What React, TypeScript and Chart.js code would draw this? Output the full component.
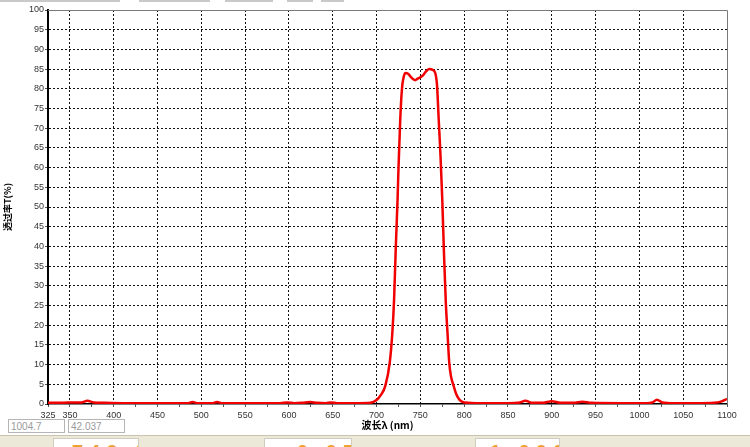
import { useEffect, useRef } from "react";
import { Chart, registerables } from "chart.js";

Chart.register(...registerables);

// Wavelength (nm) samples
const wavelengths = [
  325, 340, 355, 363, 370, 377, 390, 420, 460, 484, 490, 496, 512, 518, 524, 560,
  590, 598, 606, 615, 624, 632, 642, 648, 655, 680, 693, 700, 705, 710, 715, 718,
  720, 722, 724, 725, 727, 729, 731, 733, 736, 740, 744, 747, 750, 753, 756, 760,
  764, 767, 769, 771, 773, 775, 777, 779, 781, 783, 785, 788, 791, 795, 800, 820,
  850, 862, 870, 878, 890, 900, 910, 925, 935, 945, 980, 1008, 1015, 1020, 1026,
  1040, 1070, 1085, 1093, 1100,
];

// Transmittance T (%)
const transmittance = [
  0.3, 0.3, 0.4, 0.4, 0.8, 0.4, 0.3, 0.2, 0.2, 0.2, 0.5, 0.2, 0.2, 0.5, 0.2, 0.2,
  0.2, 0.4, 0.2, 0.3, 0.5, 0.3, 0.2, 0.4, 0.2, 0.2, 0.3, 1.0, 2.3, 4.6, 10.4, 18,
  26.5, 40, 52, 59.5, 72, 80, 83, 84, 83.8, 82.8, 82.2, 82.6, 82.9, 83.4, 84.3, 85,
  84.8, 84, 81, 72, 63, 52, 38, 26, 18, 10.4, 7, 4.6, 2.5, 1.0, 0.4, 0.2,
  0.2, 0.3, 0.8, 0.3, 0.3, 0.7, 0.3, 0.3, 0.6, 0.3, 0.2, 0.2, 0.4, 1.1, 0.4,
  0.2, 0.2, 0.3, 0.6, 1.3,
];

// Axis tick labels
const xLabelValues = [325, 350, 400, 450, 500, 550, 600, 650, 700, 750, 800, 850, 900, 950, 1000, 1050, 1100];
const xMinorStep = 25;
const yTickStep = 5;

const xTitle = "波长λ (nm)";
const yTitle = "透过率T(%)";
const readouts = ["1004.7", "42.037"];
const panelValues = ["746.0", "0.05", "1.000"];

export default function App() {
  const ref = useRef<HTMLCanvasElement>(null);

  useEffect(() => {
    document.body.style.margin = "0";
    const canvas = ref.current;
    if (!canvas) return;

    const frame = {
      id: "frame",
      beforeDatasetsDraw(chart: any) {
        const { ctx, chartArea } = chart;
        ctx.save();
        ctx.strokeStyle = "#7a7a7a";
        ctx.lineWidth = 1;
        ctx.beginPath();
        ctx.moveTo(chartArea.left, chartArea.top + 0.5);
        ctx.lineTo(chartArea.right + 0.5, chartArea.top + 0.5);
        ctx.lineTo(chartArea.right + 0.5, chartArea.bottom);
        ctx.stroke();
        ctx.restore();
      },
    };

    const xMin = xLabelValues[0];
    const xMax = xLabelValues[xLabelValues.length - 1];

    const chart = new Chart(canvas, {
      type: "line",
      data: {
        datasets: [
          {
            data: wavelengths.map((w, i) => ({ x: w, y: transmittance[i] })),
            borderColor: "#f00000",
            borderWidth: 2.5,
            pointRadius: 0,
            fill: false,
            cubicInterpolationMode: "monotone",
          },
        ],
      },
      options: {
        animation: false,
        responsive: false,
        events: [],
        layout: { padding: { top: 10, right: 23, left: 0, bottom: 0 } },
        plugins: { legend: { display: false }, tooltip: { enabled: false } },
        scales: {
          x: {
            type: "linear",
            min: xMin,
            max: xMax,
            afterFit(scale: any) {
              scale.height = 43;
            },
            afterBuildTicks(scale: any) {
              const t: { value: number }[] = [];
              for (let v = xMin; v <= xMax; v += xMinorStep) t.push({ value: v });
              scale.ticks = t;
            },
            ticks: {
              autoSkip: false,
              maxRotation: 0,
              padding: 3,
              color: "#333",
              font: { family: "Liberation Sans", size: 9 },
              callback: (v: any) => (xLabelValues.includes(Number(v)) ? String(v) : ""),
            },
            grid: {
              color: (c: any) => {
                const v = c.tick ? c.tick.value : 0;
                return v % 50 === 0 && v !== xMax ? "#111" : "rgba(0,0,0,0)";
              },
              tickColor: "#555",
              tickLength: 3,
              lineWidth: 1,
            },
            border: { color: "#000", width: 1.5, dash: [2, 2] },
            title: {
              display: true,
              text: xTitle,
              color: "#000",
              font: { family: "Noto Sans CJK SC", size: 10, weight: "bold" },
              padding: { top: 0, bottom: 16 },
            },
          },
          y: {
            min: 0,
            max: 100,
            afterFit(scale: any) {
              scale.width = 48;
            },
            ticks: {
              stepSize: yTickStep,
              padding: 1,
              color: "#333",
              font: { family: "Liberation Sans", size: 9 },
            },
            grid: {
              color: (c: any) => {
                const v = c.tick ? c.tick.value : 0;
                return v === 0 || v === 100 ? "rgba(0,0,0,0)" : "#111";
              },
              tickColor: "#555",
              tickLength: 3,
              lineWidth: 1,
            },
            border: { color: "#000", width: 2, dash: [2, 2] },
            title: {
              display: true,
              text: yTitle,
              color: "#000",
              font: { family: "Noto Sans CJK SC", size: 9, weight: "bold" },
              padding: { top: 2, bottom: 0 },
            },
          },
        },
      },
      plugins: [frame],
    });

    return () => chart.destroy();
  }, []);

  const topBars = [
    [0, 120],
    [139, 71],
    [225, 48],
    [287, 26],
    [321, 23],
  ];

  return (
    <div style={{ position: "absolute", left: 0, top: 0, width: 750, height: 447, overflow: "hidden", background: "#fff" }}>
      {topBars.map(([l, w], i) => (
        <div key={i} style={{ position: "absolute", left: l, top: 0, width: w, height: 2, background: "#c9c9c9" }} />
      ))}
      <canvas ref={ref} width={750} height={447} style={{ position: "absolute", left: 0, top: 0 }} />
      {readouts.map((t, i) => (
        <div
          key={t}
          style={{
            position: "absolute",
            left: 8 + i * 60,
            top: 419,
            width: 57,
            height: 14,
            border: "1px solid #b5b5b5",
            background: "#fff",
            color: "#9a9a9a",
            font: "10px 'Liberation Sans'",
            lineHeight: "13px",
            paddingLeft: 2,
            boxSizing: "border-box",
            whiteSpace: "nowrap",
          }}
        >
          {t}
        </div>
      ))}
      <div
        style={{
          position: "absolute",
          left: 0,
          top: 435,
          width: 750,
          height: 12,
          background: "#ECE9D8",
          borderTop: "1px solid #c8c4b0",
          boxSizing: "border-box",
        }}
      />
      {panelValues.map((t, i) => (
        <div
          key={t}
          style={{
            position: "absolute",
            left: [53, 264, 475][i],
            top: 438,
            width: [86, 88, 85][i],
            height: 12,
            background: "#fff",
            border: "1px solid #d0cdbf",
            boxSizing: "border-box",
            overflow: "hidden",
          }}
        >
          <div
            style={{
              position: "absolute",
              left: [18, 32, 14][i],
              top: 3,
              color: "#f0a030",
              font: "bold 20px 'Liberation Sans'",
              letterSpacing: 6,
              lineHeight: "20px",
              whiteSpace: "nowrap",
            }}
          >
            {t}
          </div>
        </div>
      ))}
    </div>
  );
}
